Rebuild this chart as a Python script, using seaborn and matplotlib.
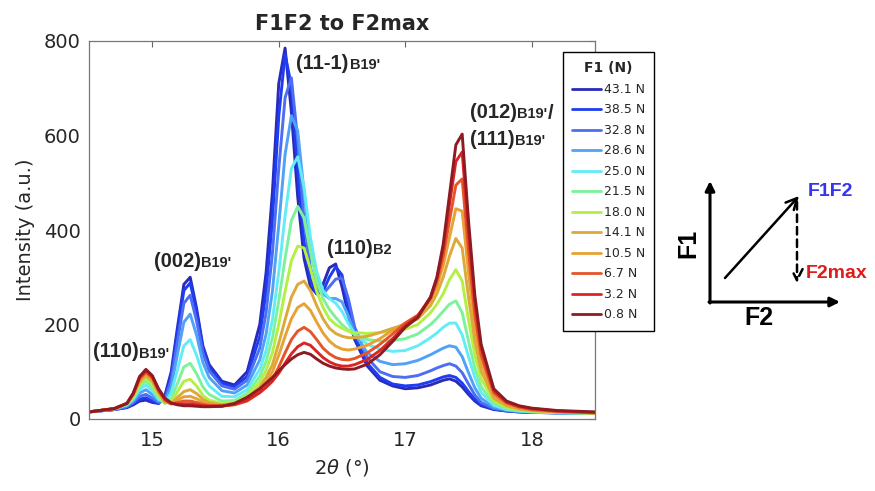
import numpy as np
import pandas as pd
import matplotlib
matplotlib.use("Agg")
import matplotlib.pyplot as plt
import seaborn as sns

# ---------------- data ----------------
two_theta = [14.50, 14.70, 14.80, 14.85, 14.90, 14.95, 15.00, 15.05, 15.10, 15.15,
             15.20, 15.25, 15.30, 15.35, 15.40, 15.45, 15.55, 15.65, 15.75, 15.85,
             15.90, 15.95, 16.00, 16.05, 16.10, 16.15, 16.20, 16.25, 16.30, 16.35,
             16.40, 16.45, 16.50, 16.55, 16.60, 16.70, 16.80, 16.90, 17.00, 17.10,
             17.20, 17.25, 17.30, 17.35, 17.40, 17.45, 17.50, 17.55, 17.60, 17.70,
             17.80, 17.90, 18.00, 18.20, 18.50]

f1_labels = ["43.1 N", "38.5 N", "32.8 N", "28.6 N", "25.0 N", "21.5 N",
             "18.0 N", "14.1 N", "10.5 N", "6.7 N", "3.2 N", "0.8 N"]

f1_colors = ["#2a2ab8", "#1e3df2", "#4d6ef2", "#4fa2f7", "#63ecf5", "#7df29a",
             "#b4ef45", "#dca93a", "#e8a135", "#e4562a", "#dc2424", "#8e1a22"]

i_43_1 = [15, 20, 24, 30, 38, 40, 35, 33, 50, 100, 195, 285, 300, 235, 155, 115, 80, 72, 100, 200,
          310, 480, 710, 785, 650, 470, 340, 280, 265, 285, 320, 328, 280, 220, 168, 112, 82, 70, 64, 66,
          72, 77, 82, 85, 80, 68, 52, 38, 28, 20, 17, 15, 14, 13, 12]
i_38_5 = [15, 20, 25, 32, 42, 45, 38, 33, 46, 92, 185, 272, 288, 228, 150, 110, 76, 68, 90, 175,
          270, 420, 640, 772, 705, 525, 375, 295, 265, 270, 300, 322, 305, 235, 175, 118, 88, 74, 70, 72,
          79, 84, 89, 92, 88, 76, 58, 42, 31, 21, 17, 15, 14, 13, 12]
i_32_8 = [15, 20, 26, 35, 48, 52, 44, 35, 42, 82, 165, 245, 262, 208, 140, 102, 70, 63, 82, 150,
          225, 350, 530, 680, 722, 590, 420, 320, 275, 265, 280, 296, 298, 255, 195, 130, 100, 90, 88, 92,
          102, 108, 113, 117, 112, 98, 74, 51, 35, 22, 18, 16, 15, 13, 12]
i_28_6 = [15, 21, 28, 38, 55, 62, 52, 38, 38, 68, 138, 205, 222, 178, 120, 88, 60, 55, 72, 125,
          180, 270, 410, 560, 642, 610, 480, 360, 298, 265, 255, 255, 248, 218, 180, 140, 122, 115, 117, 124,
          136, 143, 150, 155, 152, 132, 98, 66, 44, 25, 19, 16, 15, 13, 12]
i_25_0 = [15, 21, 30, 42, 62, 72, 60, 42, 34, 55, 105, 155, 168, 135, 94, 70, 48, 47, 62, 105,
          145, 210, 310, 430, 530, 555, 490, 385, 312, 272, 255, 245, 228, 202, 180, 158, 148, 143, 145, 155,
          172, 182, 194, 203, 203, 178, 132, 88, 56, 29, 20, 17, 15, 13, 12]
i_21_5 = [15, 22, 31, 45, 68, 80, 67, 46, 33, 42, 76, 110, 118, 96, 68, 52, 38, 39, 54, 90,
          122, 172, 250, 340, 420, 450, 425, 355, 292, 255, 232, 215, 200, 188, 178, 168, 165, 166, 170, 180,
          200, 213, 228, 243, 250, 225, 165, 108, 68, 33, 22, 18, 16, 14, 12]
i_18_0 = [15, 22, 32, 48, 74, 87, 74, 50, 34, 36, 58, 80, 84, 70, 50, 40, 33, 35, 48, 78,
          103, 140, 200, 270, 335, 366, 362, 318, 270, 236, 212, 200, 192, 186, 183, 181, 183, 186, 190, 200,
          225, 243, 265, 295, 316, 292, 210, 136, 85, 39, 25, 19, 17, 14, 12]
i_14_1 = [15, 22, 33, 50, 78, 92, 80, 55, 36, 33, 46, 58, 62, 54, 42, 35, 30, 33, 44, 68,
          88, 115, 160, 210, 258, 285, 292, 272, 240, 212, 192, 181, 175, 172, 172, 175, 183, 192, 200, 212,
          240, 265, 300, 345, 382, 362, 258, 165, 102, 44, 28, 21, 18, 15, 13]
i_10_5 = [15, 22, 33, 52, 82, 96, 84, 58, 38, 32, 40, 47, 48, 43, 36, 32, 29, 31, 41, 62,
          78, 100, 135, 175, 212, 236, 244, 230, 205, 182, 165, 154, 148, 146, 148, 156, 170, 188, 203, 218,
          250, 280, 325, 385, 445, 440, 310, 195, 120, 50, 31, 23, 19, 15, 13]
i_6_7 = [15, 22, 33, 53, 85, 99, 87, 60, 40, 32, 35, 38, 38, 35, 31, 29, 28, 30, 38, 56,
         68, 84, 110, 140, 168, 186, 194, 185, 168, 150, 138, 130, 126, 125, 128, 140, 158, 180, 203, 220,
         255, 290, 345, 420, 495, 508, 355, 222, 135, 55, 34, 25, 20, 16, 13]
i_3_2 = [15, 22, 33, 54, 88, 102, 90, 62, 42, 33, 31, 32, 32, 30, 28, 27, 27, 31, 40, 56,
         67, 80, 97, 118, 138, 153, 161, 156, 143, 130, 121, 115, 112, 112, 115, 126, 145, 170, 198, 218,
         258, 298, 360, 455, 545, 565, 395, 248, 150, 60, 36, 27, 22, 17, 14]
i_0_8 = [15, 22, 33, 55, 90, 105, 92, 64, 44, 34, 30, 28, 28, 27, 26, 26, 27, 33, 46, 64,
         76, 88, 102, 115, 127, 136, 141, 137, 127, 118, 112, 108, 106, 105, 106, 116, 136, 164, 194, 215,
         258, 300, 370, 475, 580, 603, 420, 262, 158, 64, 38, 28, 23, 18, 15]

series = [i_43_1, i_38_5, i_32_8, i_28_6, i_25_0, i_21_5,
          i_18_0, i_14_1, i_10_5, i_6_7, i_3_2, i_0_8]

x_ticks = [15, 16, 17, 18]
y_ticks = [0, 200, 400, 600, 800]

# ---------------- style ----------------
sns.set_style("white")
plt.rcParams["font.family"] = ["DejaVu Sans"]
plt.rcParams["mathtext.fontset"] = "dejavusans"

W, H = 875, 491
fig = plt.figure(figsize=(W / 100, H / 100), dpi=100)
ax = fig.add_axes([89 / W, 1 - 419 / H, 506 / W, 378 / H])

frames = []
for lab, vals in zip(f1_labels, series):
    frames.append(pd.DataFrame({"two_theta": two_theta, "intensity": vals, "F1": lab}))
df = pd.concat(frames, ignore_index=True)

sns.lineplot(data=df, x="two_theta", y="intensity", hue="F1", hue_order=f1_labels,
             palette=f1_colors, estimator=None, sort=False, linewidth=2.1, ax=ax, legend=True)
for ln in ax.lines:
    ln.set_solid_joinstyle("round")
handles, labs = ax.get_legend_handles_labels()
ax.get_legend().remove()

ax.set_xlim(14.5, 18.5)
ax.set_ylim(0, 800)
ax.set_xticks(x_ticks)
ax.set_yticks(y_ticks)
ax.tick_params(direction="in", top=True, right=True, length=4, width=0.8,
               labelsize=14, colors="#666666", labelcolor="#262626")
ax.tick_params(axis="x", pad=9)
ax.tick_params(axis="y", pad=6)
for sp in ax.spines.values():
    sp.set_color("#777777")
    sp.set_linewidth(0.9)

ax.set_xlabel(r"2$\theta$ (°)", fontsize=14, color="#262626", labelpad=5)
ax.set_ylabel("Intensity (a.u.)", fontsize=14, color="#262626", labelpad=6)
ax.set_title("F1F2 to F2max", fontsize=15, fontweight="bold", pad=8)

# ---------------- peak annotations ----------------
ann_font = ["Liberation Sans", "DejaVu Sans"]


def peak_label(x, y, main, sub, tail=None):
    t = ax.text(x, y, main, fontsize=14.5, fontweight="bold", family=ann_font,
                ha="left", va="center", zorder=5)
    s = ax.annotate(sub, xy=(1, 0), xycoords=t, xytext=(0.5, 0.5),
                    textcoords="offset points", fontsize=10.5, fontweight="bold",
                    family=ann_font, ha="left", va="bottom", zorder=5)
    if tail:
        ax.annotate(tail, xy=(1, 0), xycoords=s, xytext=(0, -1.5),
                    textcoords="offset points", fontsize=14.5, fontweight="bold",
                    family=ann_font, ha="left", va="bottom", zorder=5)


peak_label(14.53, 142, "(110)", "B19'")
peak_label(15.01, 333, "(002)", "B19'")
peak_label(16.14, 752, "(11-1)", "B19'")
peak_label(16.38, 361, "(110)", "B2")
peak_label(17.51, 649, "(012)", "B19'", tail="/")
peak_label(17.51, 592, "(111)", "B19'")

# ---------------- legend ----------------
leg = fig.legend(handles, labs, title="F1 (N)", loc="upper left",
                 bbox_to_anchor=(563 / W, 1 - 52 / H), bbox_transform=fig.transFigure,
                 frameon=True, fancybox=False, edgecolor="black", framealpha=1,
                 fontsize=9, title_fontproperties={"weight": "bold", "size": 10},
                 handlelength=2.3, handletextpad=0.2, labelspacing=0.6,
                 borderpad=0.75, borderaxespad=0)
leg.get_frame().set_linewidth(1.0)
for h in leg.legend_handles:
    h.set_linewidth(2.0)

# ---------------- F1/F2 diagram ----------------
dax = fig.add_axes([0, 0, 1, 1])
dax.set_xlim(0, W)
dax.set_ylim(H, 0)
dax.axis("off")

dax.annotate("", xy=(710, 181), xytext=(710, 303),
             arrowprops=dict(arrowstyle="-|>", lw=2.2, color="black", mutation_scale=14,
                             shrinkA=0, shrinkB=0))
dax.annotate("", xy=(840, 302), xytext=(709, 302),
             arrowprops=dict(arrowstyle="-|>", lw=2.2, color="black", mutation_scale=14,
                             shrinkA=0, shrinkB=0))
dax.annotate("", xy=(799, 196), xytext=(725, 278),
             arrowprops=dict(arrowstyle="->", lw=1.8, color="black", mutation_scale=20,
                             shrinkA=0, shrinkB=0))
dax.annotate("", xy=(797, 283), xytext=(797, 202),
             arrowprops=dict(arrowstyle="->", lw=1.8, color="black", mutation_scale=20,
                             linestyle=(0, (3, 2)), shrinkA=0, shrinkB=0))

dax.text(808, 192, "F1F2", color="#3535f0", fontsize=14, fontweight="bold",
         family=ann_font, ha="left", va="center")
dax.text(806, 274, "F2max", color="#dd1c1c", fontsize=14, fontweight="bold",
         family=ann_font, ha="left", va="center")
dax.text(759, 318, "F2", color="black", fontsize=18, fontweight="bold",
         family=ann_font, ha="center", va="center")
dax.text(688, 243, "F1", color="black", fontsize=18, fontweight="bold",
         family=ann_font, ha="center", va="center", rotation=90)

fig.savefig("out.png", dpi=100)
